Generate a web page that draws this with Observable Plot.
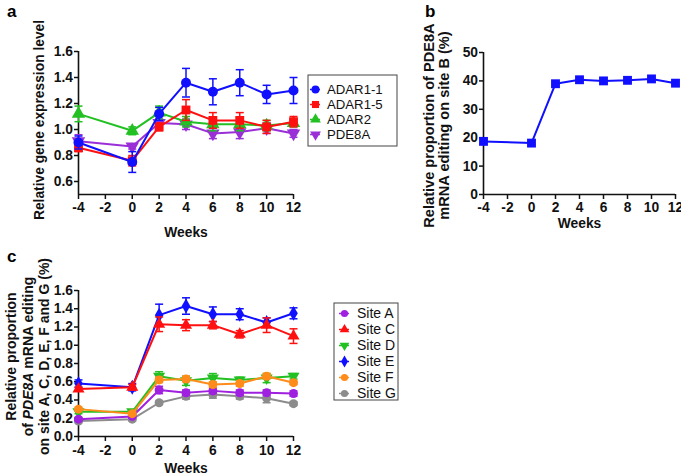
<!DOCTYPE html>
<html>
<head>
<meta charset="utf-8">
<script src="https://cdn.jsdelivr.net/npm/d3@7"></script>
<script src="https://cdn.jsdelivr.net/npm/@observablehq/plot@0.6"></script>
<style>
  html, body { margin: 0; padding: 0; background: #fff; }
  #wrap { position: relative; width: 681px; height: 476px; overflow: hidden; background: #fff;
          font-family: "Liberation Sans", Arial, sans-serif; }
  #wrap > div { position: absolute; }
  .plabel { font-weight: bold; font-size: 17px; line-height: 1; }
  svg { overflow: visible; }
</style>
</head>
<body>
<div id="wrap">
  <div class="plabel" style="left:7px; top:3px;">a</div>
  <div class="plabel" style="left:425px; top:3px;">b</div>
  <div class="plabel" style="left:7px; top:248px;">c</div>
  <div id="pa" style="left:0; top:0;"></div>
  <div id="la" style="left:307px; top:74px;"></div>
  <div id="pb" style="left:420px; top:0;"></div>
  <div id="pc" style="left:0; top:220px;"></div>
  <div id="lc" style="left:333px; top:302px;"></div>
</div>
<script>
// ---------- data ----------
const weeks = [-4, 0, 2, 4, 6, 8, 10, 12];
const xTicks = [-4, -2, 0, 2, 4, 6, 8, 10, 12];

// panel a
const aNames = ["ADAR1-1", "ADAR1-5", "ADAR2", "PDE8A"];
const adar1_1 = [0.90, 0.75, 1.12, 1.36, 1.29, 1.36, 1.27, 1.30];
const adar1_1Err = [0.05, 0.08, 0.05, 0.11, 0.10, 0.10, 0.07, 0.10];
const adar1_5 = [0.86, 0.76, 1.02, 1.15, 1.07, 1.07, 1.02, 1.06];
const adar1_5Err = [0.03, 0.04, 0.03, 0.08, 0.06, 0.06, 0.05, 0.04];
const adar2 = [1.12, 0.99, 1.13, 1.06, 1.04, 1.04, 1.03, 1.05];
const adar2Err = [0.06, 0.03, 0.05, 0.04, 0.05, 0.05, 0.04, 0.03];
const pde8a = [0.91, 0.87, 1.05, 1.04, 0.97, 0.98, 1.01, 0.97];
const pde8aErr = [0.05, 0.02, 0.03, 0.04, 0.04, 0.05, 0.04, 0.03];
const aYTicks = [0.6, 0.8, 1.0, 1.2, 1.4, 1.6];
const aYLabel = "Relative gene expression level";

// panel b
const siteB = [18.7, 18.1, 39.0, 40.4, 40.0, 40.2, 40.7, 39.2];
const bYTicks = [0, 10, 20, 30, 40, 50];
const bYLabel = "Relative proportion of PDE8A\nmRNA editing on site B (%)";

// panel c
const cNames = ["Site A", "Site C", "Site D", "Site E", "Site F", "Site G"];
const siteA = [0.19, 0.22, 0.51, 0.48, 0.50, 0.48, 0.48, 0.47];
const siteAErr = [0.02, 0.02, 0.04, 0.03, 0.03, 0.03, 0.03, 0.03];
const siteC = [0.52, 0.54, 1.23, 1.22, 1.22, 1.12, 1.22, 1.10];
const siteCErr = [0.02, 0.03, 0.08, 0.06, 0.04, 0.04, 0.08, 0.08];
const siteD = [0.27, 0.27, 0.66, 0.61, 0.64, 0.62, 0.64, 0.66];
const siteDErr = [0.02, 0.02, 0.05, 0.05, 0.05, 0.03, 0.05, 0.03];
const siteE = [0.58, 0.54, 1.33, 1.43, 1.34, 1.34, 1.25, 1.35];
const siteEErr = [0.04, 0.04, 0.12, 0.09, 0.08, 0.06, 0.05, 0.06];
const siteF = [0.30, 0.25, 0.62, 0.63, 0.57, 0.58, 0.66, 0.59];
const siteFErr = [0.02, 0.02, 0.03, 0.03, 0.03, 0.03, 0.03, 0.02];
const siteG = [0.17, 0.19, 0.37, 0.44, 0.46, 0.44, 0.42, 0.36];
const siteGErr = [0.02, 0.02, 0.02, 0.03, 0.04, 0.03, 0.05, 0.02];
const cYTicks = [0, 0.2, 0.4, 0.6, 0.8, 1.0, 1.2, 1.4, 1.6];
const cYLabel = "Relative proportion\nof PDE8A mRNA editing\non site A, C, D, E, F and G (%)";

const xLabel = "Weeks";

// ---------- symbols ----------
const sqrt3 = Math.sqrt(3);
const triangleDown = {
  draw(ctx, size) {
    const y = -Math.sqrt(size / (sqrt3 * 3));
    ctx.moveTo(0, -y * 2);
    ctx.lineTo(-sqrt3 * y, y);
    ctx.lineTo(sqrt3 * y, y);
    ctx.closePath();
  }
};
const capSymbol = {
  draw(ctx, size) {
    const r = Math.sqrt(size / Math.PI);
    ctx.moveTo(-r, 0);
    ctx.lineTo(r, 0);
  }
};

const FONT = '"Liberation Sans", Arial, sans-serif';

function rowsOf(vals, errs) {
  return weeks.map((w, i) => ({x: w, y: vals[i], lo: errs ? vals[i] - errs[i] : vals[i], hi: errs ? vals[i] + errs[i] : vals[i]}));
}

function seriesMarks(rows, color, symbol, r, hasErr) {
  const m = [];
  if (hasErr) {
    m.push(Plot.ruleX(rows, {x: "x", y1: "lo", y2: "hi", stroke: color, strokeWidth: 1.5}));
    m.push(Plot.dot(rows, {x: "x", y: "hi", symbol: capSymbol, stroke: color, fill: "none", r: 4, strokeWidth: 1.5}));
    m.push(Plot.dot(rows, {x: "x", y: "lo", symbol: capSymbol, stroke: color, fill: "none", r: 4, strokeWidth: 1.5}));
  }
  m.push(Plot.line(rows, {x: "x", y: "y", stroke: color, strokeWidth: 2}));
  m.push(Plot.dot(rows, {x: "x", y: "y", symbol, fill: color, stroke: "none", r}));
  return m;
}

function frameAxes(ymin, ymax, yTicks, fmt, opts) {
  return [
    Plot.ruleX([-4], {y1: ymin, y2: ymax, stroke: "#111", strokeWidth: 1.6}),
    Plot.ruleY([ymin], {x1: -4, x2: 12, stroke: "#111", strokeWidth: 1.6}),
    Plot.axisX({ticks: xTicks, tickSize: 5, tickPadding: opts.xPad, strokeWidth: 1.5, label: null, tickFormat: d => String(d)}),
    Plot.axisY({ticks: yTicks, tickSize: 4, tickPadding: 1.5, strokeWidth: 1.5, label: null, tickFormat: fmt}),
    Plot.text([xLabel], {text: d => d, frameAnchor: "bottom", lineAnchor: "middle", dy: opts.xLabelDy, fontSize: 13.8}),
    Plot.text([opts.yLabel], {text: d => d, frameAnchor: "left", textAnchor: "middle", lineAnchor: "middle",
      rotate: -90, dx: opts.yLabelDx, dy: opts.yLabelDy, fontSize: opts.yLabelSize, lineHeight: opts.lineHeight})
  ];
}

const baseStyle = {fontFamily: FONT, fontSize: "13.8px", fontWeight: "bold", color: "#111", background: "transparent", overflow: "visible"};

// ---------- panel a ----------
const colorsA = ["#1010ff", "#ff1010", "#22c022", "#9a2fd8"];
const symbolsA = ["circle", "square", "triangle", triangleDown];
const dataA = [[adar1_1, adar1_1Err], [adar1_5, adar1_5Err], [adar2, adar2Err], [pde8a, pde8aErr]];
const orderA = [3, 2, 1, 0];

const plotA = Plot.plot({
  width: 310, height: 245,
  marginLeft: 78, marginRight: 17, marginTop: 51, marginBottom: 51,
  x: {domain: [-4, 12]},
  y: {domain: [0.5, 1.6]},
  style: baseStyle,
  marks: [
    ...frameAxes(0.5, 1.6, aYTicks, d => d.toFixed(1), {xPad: 3, xLabelDy: 38, yLabel: aYLabel, yLabelDx: -39, yLabelDy: -3, yLabelSize: 13.8, lineHeight: 1.1}),
    ...orderA.flatMap(i => seriesMarks(rowsOf(dataA[i][0], dataA[i][1]), colorsA[i], symbolsA[i], 5, true))
  ]
});
document.getElementById("pa").appendChild(plotA);

function legendPlot(names, colors, symbols, w, h, y0, y1, symX, lineL, lineR, textX, r, fs) {
  return Plot.plot({
    width: w, height: h, margin: 0,
    y: {type: "point", domain: names, range: [y0, y1], padding: 0, axis: null},
    style: {fontFamily: FONT, fontSize: fs + "px", fontWeight: "normal", color: "#111", background: "#fff", overflow: "visible"},
    marks: [
      Plot.frame({stroke: "#444", strokeWidth: 1, inset: 0.5}),
      ...names.flatMap((n, i) => [
        Plot.tickY([n], {y: d => d, stroke: colors[i], strokeWidth: 1.5, insetLeft: lineL, insetRight: w - lineR}),
        Plot.dot([n], {y: d => d, frameAnchor: "left", dx: symX, symbol: symbols[i], fill: colors[i], stroke: "none", r})
      ]),
      Plot.text(names, {y: d => d, text: d => d, frameAnchor: "left", textAnchor: "start", dx: textX})
    ]
  });
}

document.getElementById("la").appendChild(legendPlot(aNames, colorsA, symbolsA, 90, 72, 14.5, 59.5, 8, 3, 13, 19.5, 4, 13.2));

// ---------- panel b ----------
const plotB = Plot.plot({
  width: 261, height: 245,
  marginLeft: 63, marginRight: 6, marginTop: 52, marginBottom: 51,
  x: {domain: [-4, 12]},
  y: {domain: [0, 50]},
  style: baseStyle,
  marks: [
    ...frameAxes(0, 50, bYTicks, d => String(d), {xPad: 3, xLabelDy: 29, yLabel: bYLabel, yLabelDx: -47, yLabelDy: 2, yLabelSize: 14.6, lineHeight: 1.05}),
    ...seriesMarks(rowsOf(siteB, null), "#1010ff", "square", 5, false)
  ]
});
document.getElementById("pb").appendChild(plotB);

// ---------- panel c ----------
const colorsC = ["#a020e0", "#ff1010", "#22c022", "#1010ff", "#ff8c1a", "#8c8c8c"];
const symbolsC = ["circle", "triangle", triangleDown, "diamond", "circle", "circle"];
const dataC = [[siteA, siteAErr], [siteC, siteCErr], [siteD, siteDErr], [siteE, siteEErr], [siteF, siteFErr], [siteG, siteGErr]];
const orderC = [3, 2, 1, 5, 0, 4];

const plotC = Plot.plot({
  width: 330, height: 256,
  marginLeft: 78, marginRight: 37, marginTop: 70, marginBottom: 40,
  x: {domain: [-4, 12]},
  y: {domain: [0, 1.6]},
  style: baseStyle,
  marks: [
    ...frameAxes(0, 1.6, cYTicks, d => d.toFixed(1), {xPad: 4, xLabelDy: 32, yLabel: cYLabel, yLabelDx: -51, yLabelDy: -7, yLabelSize: 14, lineHeight: 1.18}),
    ...orderC.flatMap(i => seriesMarks(rowsOf(dataC[i][0], dataC[i][1]), colorsC[i], symbolsC[i], 4.5, true))
  ]
});
document.getElementById("pc").appendChild(plotC);

// italic gene name in panel c label
d3.select(plotC).selectAll("tspan").filter(function () { return this.textContent === "of PDE8A mRNA editing"; })
  .each(function () {
    const t = d3.select(this);
    t.text(null);
    t.append("tspan").text("of ");
    t.append("tspan").attr("font-style", "italic").text("PDE8A");
    t.append("tspan").text(" mRNA editing");
  });

document.getElementById("lc").appendChild(legendPlot(cNames, colorsC, symbolsC, 65, 98, 10.7, 92, 11, 6, 16, 23.5, 3.6, 14));
</script>
</body>
</html>
